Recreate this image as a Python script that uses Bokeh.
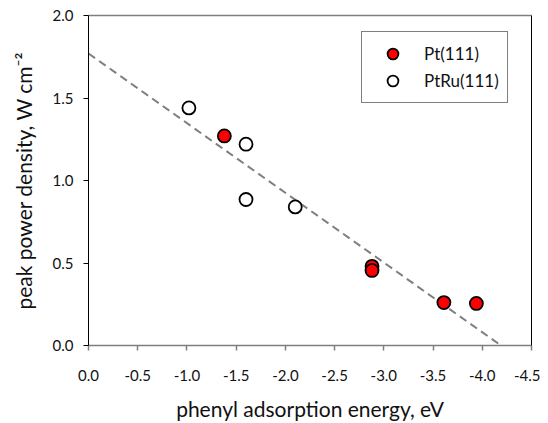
from bokeh.plotting import figure
from bokeh.models import Range1d, LinearAxis, FixedTicker, PrintfTickFormatter, Legend, LegendItem
from bokeh.embed import file_html
from bokeh.resources import INLINE

# Data
pt_x = [-1.38, -2.88, -2.88, -3.61, -3.94]
pt_y = [1.27, 0.48, 0.455, 0.26, 0.255]
ptru_x = [-1.02, -1.60, -1.60, -2.10]
ptru_y = [1.44, 1.22, 0.885, 0.84]
fit_x = [0.0, -4.19]
fit_y = [1.77, 0.0]
x_ticks = [0.0, -0.5, -1.0, -1.5, -2.0, -2.5, -3.0, -3.5, -4.0, -4.5]
y_ticks = [0.0, 0.5, 1.0, 1.5, 2.0]

FONT = "Lato"
TXT = "#111111"

p = figure(width=540, height=423, output_backend="svg", toolbar_location=None,
           x_range=Range1d(0, -4.5), y_range=Range1d(0, 2.0),
           x_axis_location=None, y_axis_location=None,
           min_border_left=88, min_border_right=9, min_border_top=15, min_border_bottom=78)
p.outline_line_color = None
p.xgrid.visible = False
p.ygrid.visible = False
p.background_fill_color = "white"

gray = "#7f7f7f"

xb = LinearAxis(ticker=FixedTicker(ticks=x_ticks), formatter=PrintfTickFormatter(format="%.1f"),
                axis_label="phenyl adsorption energy, eV")
xb.axis_line_color = gray
xb.axis_line_width = 1.5
xb.major_tick_line_color = gray
xb.major_tick_line_width = 1.5
xb.major_tick_out = 5
xb.major_tick_in = 0
xb.minor_tick_line_color = None
xb.major_label_standoff = 19
xb.major_label_text_font = FONT
xb.major_label_text_font_size = "15px"
xb.major_label_text_color = TXT
xb.axis_label_text_font = FONT
xb.axis_label_text_font_size = "21px"
xb.axis_label_text_font_style = "normal"
xb.axis_label_text_color = TXT
xb.axis_label_standoff = 12
p.add_layout(xb, "below")

yl = LinearAxis(ticker=FixedTicker(ticks=y_ticks), formatter=PrintfTickFormatter(format="%.1f"),
                axis_label="peak power density, W cm\u207b\u00b2")
yl.axis_line_color = "black"
yl.axis_line_width = 1
yl.major_tick_line_color = "black"
yl.major_tick_out = 5
yl.major_tick_in = 0
yl.minor_tick_line_color = None
yl.major_label_standoff = 10
yl.major_label_text_font = FONT
yl.major_label_text_font_size = "15px"
yl.major_label_text_color = TXT
yl.axis_label_text_font = FONT
yl.axis_label_text_font_size = "21px"
yl.axis_label_text_font_style = "normal"
yl.axis_label_text_color = TXT
yl.axis_label_standoff = 14
p.add_layout(yl, "left")

xt = LinearAxis(ticker=FixedTicker(ticks=[]))
xt.axis_line_color = gray
xt.axis_line_width = 1.5
xt.major_tick_line_color = None
xt.minor_tick_line_color = None
p.add_layout(xt, "above")

yr = LinearAxis(ticker=FixedTicker(ticks=[]))
yr.axis_line_color = "black"
yr.axis_line_width = 1
yr.major_tick_line_color = None
yr.minor_tick_line_color = None
p.add_layout(yr, "right")

p.line(fit_x, fit_y, line_color=gray, line_width=2, line_dash="8 5")

r_ptru = p.scatter(ptru_x, ptru_y, marker="circle", size=13, fill_color="white",
                   line_color="black", line_width=1.8)
r_pt = p.scatter(pt_x, pt_y, marker="circle", size=13, fill_color="#ff0000",
                 line_color="black", line_width=1.8)

legend = Legend(items=[LegendItem(label="Pt(111)", renderers=[r_pt]),
                       LegendItem(label="PtRu(111)", renderers=[r_ptru])],
                location=(273, 242))
legend.margin = 0
legend.padding = 8
legend.spacing = 0
legend.label_height = 27
legend.glyph_height = 27
legend.glyph_width = 45
legend.label_standoff = 9
legend.label_text_font = FONT
legend.label_text_font_size = "17px"
legend.label_text_color = TXT
legend.border_line_color = "black"
legend.border_line_width = 1
legend.background_fill_alpha = 1
p.add_layout(legend)

open("out.html", "w").write(file_html(p, INLINE))
